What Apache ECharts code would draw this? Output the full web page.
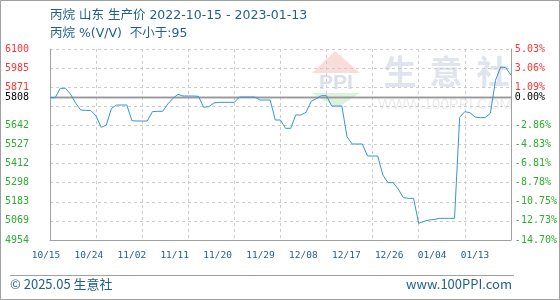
<!DOCTYPE html>
<html>
<head>
<meta charset="utf-8">
<script src="https://cdn.jsdelivr.net/npm/echarts@6/dist/echarts.min.js"></script>
<style>html,body{margin:0;padding:0;background:#fff;}#c{width:560px;height:300px;}</style>
</head>
<body>
<div id="c"></div>
<script>
const dates = ['10/15','10/16','10/17','10/18','10/19','10/20','10/21','10/22','10/23','10/24','10/25','10/26','10/27','10/28','10/29','10/30','10/31','11/01','11/02','11/03','11/04','11/05','11/06','11/07','11/08','11/09','11/10','11/11','11/12','11/13','11/14','11/15','11/16','11/17','11/18','11/19','11/20','11/21','11/22','11/23','11/24','11/25','11/26','11/27','11/28','11/29','11/30','12/01','12/02','12/03','12/04','12/05','12/06','12/07','12/08','12/09','12/10','12/11','12/12','12/13','12/14','12/15','12/16','12/17','12/18','12/19','12/20','12/21','12/22','12/23','12/24','12/25','12/26','12/27','12/28','12/29','12/30','12/31','01/01','01/02','01/03','01/04','01/05','01/06','01/07','01/08','01/09','01/10','01/11','01/12','01/13'];
const prices = [5808,5808,5864,5864,5830,5776,5734,5732,5730,5698,5630,5644,5744,5764,5764,5764,5670,5668,5668,5668,5724,5726,5726,5770,5804,5828,5818,5818,5818,5816,5750,5754,5776,5780,5780,5780,5780,5812,5812,5812,5812,5794,5794,5794,5674,5674,5624,5624,5704,5704,5720,5786,5802,5820,5820,5758,5758,5758,5574,5530,5530,5530,5458,5458,5458,5344,5298,5298,5260,5208,5204,5204,5054,5066,5074,5077,5084,5084,5084,5084,5690,5724,5718,5692,5688,5689,5714,5912,5992,5988,5944];
const baseValue = 5808;
const priceLabels = ['4954','5069','5183','5298','5412','5527','5642','','5871','5985','6100'];
const pctLabels = ['-14.70%','-12.73%','-10.75%','-8.78%','-6.81%','-4.83%','-2.86%','','1.09%','3.06%','5.03%'];
const baseLabel = '5808';
const basePctLabel = '0.00%';
const yMin = 4954, yMax = 6100, yStep = (yMax - yMin) / 10;

const chart = echarts.init(document.getElementById('c'), null, {renderer:'canvas'});
const mono = 'DejaVu Sans Mono';
const blue = '#1f5f8f';
const titleFont = '12.5px "DejaVu Sans", "Noto Sans CJK SC"';
function idx(v){ return Math.round((v - yMin) / yStep); }
function colorLabel(v, arr){
  const s = arr[idx(v)];
  if (!s) return '';
  if (v > baseValue) return '{r|' + s + '}';
  return '{g|' + s + '}';
}
const rich = {r:{color:'#f33', fontFamily:mono, fontSize:10}, g:{color:'#2fae2f', fontFamily:mono, fontSize:10}};

chart.setOption({
  animation:false,
  grid:[
    {left:50, right:49, top:49, bottom:60, containLabel:false},
    {left:46, right:85, top:49, bottom:60, containLabel:false}
  ],
  graphic:[
    {type:'rect', z:-20, shape:{x:0.5,y:0.5,width:559,height:299}, style:{fill:'none', stroke:'#a0a0a0', lineWidth:1}},
    {type:'line', shape:{x1:10,y1:275.5,x2:514,y2:275.5}, style:{stroke:'#a0a0a0', lineWidth:1}},
    {type:'text', left:50, top:9, style:{text:'丙烷 山东 生产价 2022-10-15 - 2023-01-13', fill:blue, font:titleFont}},
    {type:'text', left:50, top:27, style:{text:'丙烷 %(V/V)  不小于:95', fill:blue, font:titleFont}},
    {type:'text', left:10, top:278, style:{text:'© 2025.05 生意社', fill:blue, font:'13px "Noto Sans CJK SC"'}},
    {type:'text', right:48, top:278, style:{text:'www.100PPI.com', fill:blue, font:'13px "Noto Sans CJK SC"'}},
    {type:'polygon', z:-10, shape:{points:[[335,51],[312,73],[360,73]]}, style:{fill:'#fadcdc'}},
    {type:'text', z:-10, x:336, y:83, style:{text:'PPI', fill:'#d9dfeb', font:'bold 21px "Liberation Sans"', align:'center', verticalAlign:'middle'}},
    {type:'polygon', z:-10, shape:{points:[[312,93],[360,93],[337,108]]}, style:{fill:'#ddf2dd'}},
    {type:'text', z:-10, x:400, y:71, style:{text:'生', fill:'#dfe4ee', font:'bold 33px "Noto Sans CJK SC"', align:'center', verticalAlign:'middle'}},
    {type:'text', z:-10, x:446, y:71, style:{text:'意', fill:'#dfe4ee', font:'bold 33px "Noto Sans CJK SC"', align:'center', verticalAlign:'middle'}},
    {type:'text', z:-10, x:493, y:71, style:{text:'社', fill:'#dfe4ee', font:'bold 33px "Noto Sans CJK SC"', align:'center', verticalAlign:'middle'}},
    {type:'text', z:-10, x:445, y:105, style:{text:'WWW.100PPI.COM', fill:'#ececec', font:'15px "Liberation Sans"', align:'center', verticalAlign:'middle'}}
  ],
  xAxis:[
    {type:'category', gridIndex:0, data:dates, boundaryGap:false,
     axisLine:{lineStyle:{color:'#a0a0a0', width:1}}, axisTick:{show:false}, axisLabel:{show:false},
     splitLine:{show:true, interval:8, lineStyle:{color:'#cccccc', type:[3,3], width:1}}},
    {type:'category', gridIndex:1, data:dates, boundaryGap:false,
     axisLine:{show:false}, axisTick:{show:false}, splitLine:{show:false},
     axisLabel:{interval:8, margin:11, color:blue, fontFamily:mono, fontSize:9.5}}
  ],
  yAxis:[
    {type:'value', gridIndex:0, position:'left', min:yMin, max:yMax, interval:yStep,
     axisLine:{show:true, lineStyle:{color:'#a0a0a0', width:1}}, axisTick:{show:false},
     axisLabel:{align:'left', margin:45, formatter:v=>colorLabel(v, priceLabels), rich:rich},
     splitLine:{show:true, lineStyle:{color:'#cccccc', type:[3,3], width:1}}},
    {type:'value', gridIndex:0, position:'right', min:yMin, max:yMax, interval:yStep,
     axisLine:{show:true, lineStyle:{color:'#a0a0a0', width:1}}, axisTick:{show:false},
     axisLabel:{align:'left', margin:4, formatter:v=>colorLabel(v, pctLabels), rich:rich},
     splitLine:{show:false}},
    {type:'value', gridIndex:1, show:false, min:yMin, max:yMax}
  ],
  series:[{
    type:'line', xAxisIndex:0, yAxisIndex:0, data:prices, showSymbol:false, symbol:'none',
    lineStyle:{color:'#3596d6', width:1}, z:5,
    markLine:{silent:true, symbol:'none', animation:false,
      lineStyle:{color:'#999999', type:'solid', width:1.3},
      data:[
        {yAxis:baseValue, label:{show:true, position:'start', distance:21, formatter:baseLabel, color:'#000', fontFamily:mono, fontSize:10}},
        {yAxis:baseValue, label:{show:true, position:'end', distance:4, formatter:basePctLabel, color:'#000', fontFamily:mono, fontSize:10}}
      ]}
  }]
});
</script>
</body>
</html>
